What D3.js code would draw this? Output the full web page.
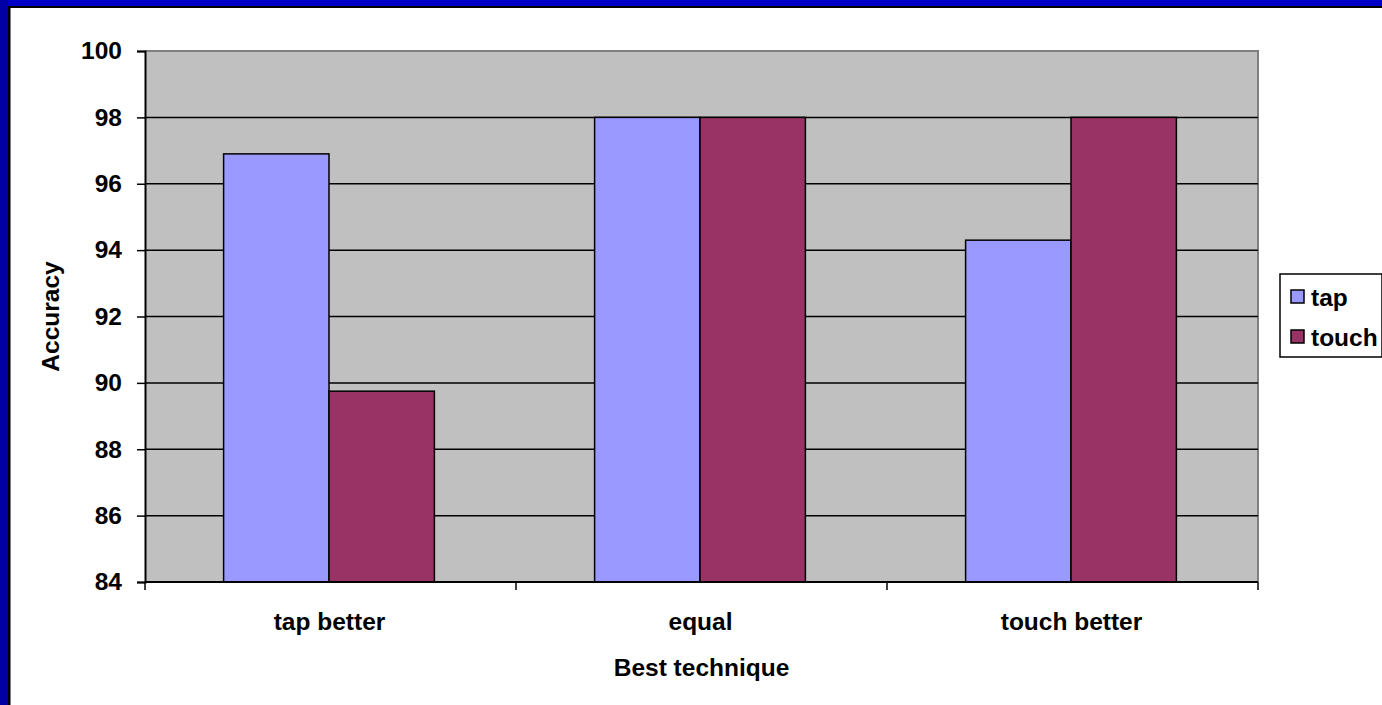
<!DOCTYPE html>
<html>
<head>
<meta charset="utf-8">
<script src="https://cdn.jsdelivr.net/npm/d3@7"></script>
<style>
  html, body { margin: 0; padding: 0; background: #ffffff; }
  svg { display: block; font-family: "Liberation Sans", Arial, sans-serif; font-weight: bold; }
</style>
</head>
<body>
<svg id="chart" width="1382" height="705"></svg>
<script>
// Accuracy by which technique performed best
const categories = ["tap better", "equal", "touch better"];
const seriesNames = ["tap", "touch"];
const tapValues = [96.9, 98, 94.3];
const touchValues = [89.75, 98, 98];
const yTicks = [84, 86, 88, 90, 92, 94, 96, 98, 100];
const seriesColors = ["#9999ff", "#993366"];

const rows = categories.map((c, i) => ({ category: c, values: [tapValues[i], touchValues[i]] }));

const svg = d3.select("#chart");
const W = 1382, H = 705;
const plot = { left: 145, right: 1258, top: 51, bottom: 582 };
const FONT = 24.5;

// Frame around the slide
svg.append("rect").attr("x", 0).attr("y", 0).attr("width", W).attr("height", 6).attr("fill", "#0000c8");
svg.append("rect").attr("x", 0).attr("y", 6).attr("width", W).attr("height", 2).attr("fill", "#000000");
svg.append("rect").attr("x", 0).attr("y", 0).attr("width", 8).attr("height", H).attr("fill", "#0000a4");
svg.append("rect").attr("x", 8).attr("y", 6).attr("width", 2).attr("height", H).attr("fill", "#000000");
svg.append("rect").attr("x", 10).attr("y", 8).attr("width", 1).attr("height", H).attr("fill", "#808080");

const x0 = d3.scaleBand().domain(categories).range([plot.left, plot.right]).paddingInner(0).paddingOuter(0);
const x1 = d3.scaleBand().domain(seriesNames).range([0, x0.bandwidth()]).paddingInner(0).paddingOuter(0.76);
const y = d3.scaleLinear().domain([84, 100]).range([plot.bottom, plot.top]);

// Plot area background
svg.append("rect")
  .attr("x", plot.left).attr("y", plot.top)
  .attr("width", plot.right - plot.left).attr("height", plot.bottom - plot.top)
  .attr("fill", "#c0c0c0");

// Gray plot border (top and right)
svg.append("path")
  .attr("d", `M${plot.left},${plot.top}H${plot.right}V${plot.bottom}`)
  .attr("fill", "none").attr("stroke", "#808080").attr("stroke-width", 2);

// Horizontal gridlines
svg.append("g").selectAll("line")
  .data(yTicks.filter(t => t > 84 && t < 100))
  .join("line")
  .attr("x1", plot.left).attr("x2", plot.right)
  .attr("y1", d => y(d)).attr("y2", d => y(d))
  .attr("stroke", "#000000").attr("stroke-width", 1.5);

// Bars
const groups = svg.append("g").selectAll("g")
  .data(rows)
  .join("g")
  .attr("transform", d => `translate(${x0(d.category) - 1.5},0)`);

groups.selectAll("rect")
  .data(d => d.values.map((v, i) => ({ name: seriesNames[i], value: v, idx: i })))
  .join("rect")
  .attr("x", d => x1(d.name))
  .attr("y", d => y(d.value))
  .attr("width", x1.bandwidth())
  .attr("height", d => y(84) - y(d.value))
  .attr("fill", d => seriesColors[d.idx])
  .attr("stroke", "#000000")
  .attr("stroke-width", 1.5);

// Y axis
const yAxis = d3.axisLeft(y).tickValues(yTicks).tickSize(8).tickPadding(15).tickFormat(d3.format("d"));
const gy = svg.append("g").attr("transform", `translate(${plot.left},0)`).call(yAxis);
gy.select(".domain").attr("stroke", "#000").attr("stroke-width", 2);
gy.selectAll(".tick line").attr("stroke", "#000").attr("stroke-width", 1.5);
gy.selectAll(".tick text").attr("font-size", FONT).attr("font-weight", "bold")
  .attr("font-family", "Liberation Sans, Arial, sans-serif").attr("fill", "#000");

// X axis: tick marks on category boundaries
const gx = svg.append("g");
gx.append("line")
  .attr("x1", plot.left).attr("x2", plot.right)
  .attr("y1", plot.bottom).attr("y2", plot.bottom)
  .attr("stroke", "#000").attr("stroke-width", 2);
const boundaries = categories.map(c => x0(c)).concat([x0(categories[categories.length - 1]) + x0.bandwidth()]);
gx.selectAll("line.tk")
  .data(boundaries)
  .join("line").attr("class", "tk")
  .attr("x1", d => d).attr("x2", d => d)
  .attr("y1", plot.bottom).attr("y2", plot.bottom + 8)
  .attr("stroke", "#000").attr("stroke-width", 1.5);
gx.selectAll("text")
  .data(categories)
  .join("text")
  .attr("x", d => x0(d) + x0.bandwidth() / 2 - 1)
  .attr("y", 621)
  .attr("text-anchor", "middle")
  .attr("dominant-baseline", "central")
  .attr("font-size", FONT)
  .text(d => d);

// Axis titles
svg.append("text")
  .attr("x", (plot.left + plot.right) / 2).attr("y", 667)
  .attr("text-anchor", "middle").attr("dominant-baseline", "central")
  .attr("font-size", FONT)
  .text("Best technique");

svg.append("text")
  .attr("transform", `translate(50,${(plot.top + plot.bottom) / 2}) rotate(-90)`)
  .attr("text-anchor", "middle").attr("dominant-baseline", "central")
  .attr("font-size", FONT)
  .text("Accuracy");

// Legend
const legend = svg.append("g");
legend.append("rect")
  .attr("x", 1280).attr("y", 274).attr("width", 102).attr("height", 83)
  .attr("fill", "#ffffff").attr("stroke", "#000").attr("stroke-width", 1.5);
const items = legend.selectAll("g.item")
  .data(seriesNames)
  .join("g").attr("class", "item")
  .attr("transform", (d, i) => `translate(1291,${290 + i * 40})`);
items.append("rect")
  .attr("width", 13).attr("height", 13)
  .attr("fill", (d, i) => seriesColors[i])
  .attr("stroke", "#000").attr("stroke-width", 1.5);
items.append("text")
  .attr("x", 20).attr("y", 7)
  .attr("dominant-baseline", "central")
  .attr("font-size", FONT)
  .text(d => d);
</script>
</body>
</html>
